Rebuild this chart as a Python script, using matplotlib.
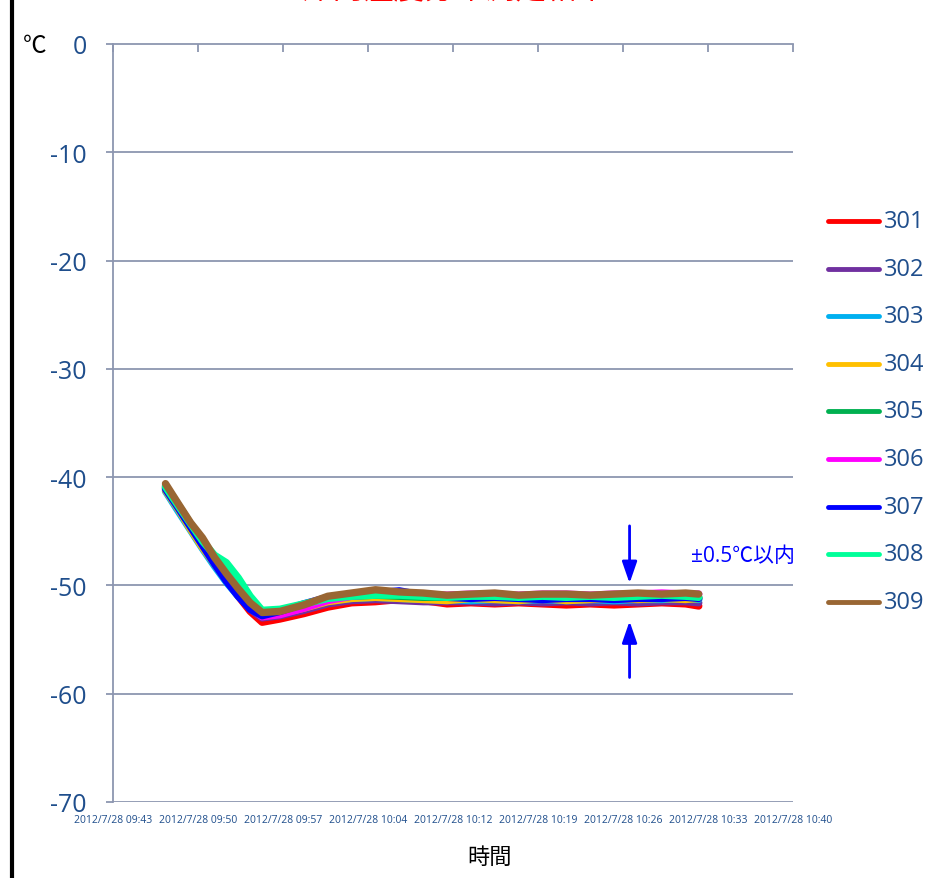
import matplotlib
matplotlib.use("Agg")
import matplotlib.pyplot as plt
from matplotlib.lines import Line2D

plt.rcParams['font.family'] = ['Open Sans', 'Noto Sans CJK JP', 'DejaVu Sans']

# minutes after 2012/7/28 09:43
minutes = [4.4, 5.5, 6.5, 7.5, 8.5, 9.5, 10.5, 11.5, 12.5, 14, 16, 18, 20, 22,
           24, 26, 28, 30, 32, 34, 36, 38, 40, 42, 44, 46, 48, 49.1]

t301 = [-41.0, -42.8, -44.5, -46.1, -47.9, -49.5, -51.0, -52.4, -53.4, -53.1, -52.6, -52.0, -51.6, -51.5,
        -51.3, -51.4, -51.7, -51.6, -51.7, -51.6, -51.7, -51.8, -51.7, -51.8, -51.7, -51.6, -51.7, -51.9]
t302 = [-41.0, -42.8, -44.5, -46.2, -47.9, -49.5, -50.9, -52.2, -53.0, -52.8, -52.3, -51.7, -51.4, -51.3,
        -51.4, -51.5, -51.5, -51.5, -51.6, -51.5, -51.6, -51.5, -51.6, -51.5, -51.6, -51.5, -51.5, -51.6]
t303 = [-41.3, -43.2, -44.9, -46.6, -48.2, -49.7, -51.0, -52.1, -52.8, -52.6, -52.0, -51.4, -51.2, -51.1,
        -51.2, -51.3, -51.3, -51.4, -51.3, -51.4, -51.3, -51.4, -51.3, -51.4, -51.3, -51.3, -51.2, -51.3]
t304 = [-41.2, -43.0, -44.8, -46.5, -48.0, -49.5, -50.8, -51.9, -52.7, -52.6, -52.1, -51.5, -51.2, -51.1,
        -51.2, -51.3, -51.4, -51.2, -51.3, -51.4, -51.2, -51.4, -51.3, -51.2, -51.3, -51.2, -51.3, -51.2]
t305 = [-40.8, -42.6, -44.3, -45.9, -47.6, -49.2, -50.6, -51.9, -52.7, -52.4, -51.9, -51.2, -51.0, -50.9,
        -51.0, -51.1, -51.1, -51.1, -51.0, -51.1, -51.1, -51.0, -51.1, -51.1, -51.0, -51.1, -51.0, -51.1]
t306 = [-40.9, -42.7, -44.4, -46.0, -47.6, -49.2, -50.7, -52.0, -52.9, -52.7, -52.1, -51.4, -51.0, -50.8,
        -50.8, -50.8, -50.9, -50.8, -50.8, -50.9, -50.8, -50.8, -50.9, -50.8, -50.8, -50.7, -50.8, -50.8]
t307 = [-41.1, -42.9, -44.6, -46.3, -48.0, -49.6, -51.0, -52.2, -52.8, -52.4, -51.7, -51.1, -50.8, -50.7,
        -50.5, -50.9, -51.1, -51.2, -51.1, -51.2, -51.3, -51.2, -51.2, -51.3, -51.2, -51.2, -51.1, -51.2]
t308 = [-40.9, -42.7, -44.3, -45.9, -47.2, -47.9, -49.3, -51.0, -52.3, -52.2, -51.7, -51.2, -51.0, -50.9,
        -50.9, -51.0, -51.1, -51.0, -51.0, -51.1, -51.0, -51.1, -51.0, -51.1, -51.0, -50.9, -51.0, -51.1]
t309 = [-40.6, -42.5, -44.2, -45.6, -47.4, -48.9, -50.3, -51.6, -52.5, -52.4, -51.8, -51.0, -50.7, -50.4,
        -50.6, -50.7, -50.9, -50.8, -50.7, -50.9, -50.8, -50.8, -50.9, -50.8, -50.7, -50.8, -50.7, -50.8]

labels = ['301', '302', '303', '304', '305', '306', '307', '308', '309']
series = [t301, t302, t303, t304, t305, t306, t307, t308, t309]
colors = ['#ff0000', '#7030a0', '#00b0f0', '#ffc000', '#00b050',
          '#ff00ff', '#0000ff', '#00ff99', '#996633']

tick_minutes = [0, 7.125, 14.25, 21.375, 28.5, 35.625, 42.75, 49.875, 57]
tick_labels = ['2012/7/28 09:43', '2012/7/28 09:50', '2012/7/28 09:57',
               '2012/7/28 10:04', '2012/7/28 10:12', '2012/7/28 10:19',
               '2012/7/28 10:26', '2012/7/28 10:33', '2012/7/28 10:40']
y_ticks = [0, -10, -20, -30, -40, -50, -60, -70]

W, H = 945, 879
fig = plt.figure(figsize=(W / 100, H / 100), dpi=100)
ax = fig.add_axes([113 / W, 1 - 803 / H, 680 / W, 758 / H])

axis_col = '#8c96b0'
text_col = '#1f4e8c'

for v in y_ticks[1:]:
    ax.axhline(v, color=axis_col, lw=1.3, zorder=1)

for vals, col in zip(series, colors):
    ax.plot(minutes, vals, color=col, lw=5.3, solid_capstyle='round',
            solid_joinstyle='round', zorder=3)

ax.set_xlim(0, 57)
ax.set_ylim(-70, 0)
ax.set_xticks(tick_minutes)
ax.set_xticklabels(tick_labels, fontsize=7.5, color=text_col)
ax.set_yticks(y_ticks)
ax.set_yticklabels([str(v) for v in y_ticks], fontsize=18, color=text_col)

ax.tick_params(axis='x', top=True, bottom=False, labeltop=False, labelbottom=True,
               direction='in', length=6, color=axis_col, width=1.3, pad=9)
ax.tick_params(axis='y', direction='out', length=5, color=axis_col, width=1.3, pad=14)
for side in ['right', 'bottom']:
    ax.spines[side].set_visible(False)
for side in ['top', 'left']:
    ax.spines[side].set_color(axis_col)
    ax.spines[side].set_linewidth(1.3)

# tolerance arrows
arrow = dict(arrowstyle='-|>,head_length=1.3,head_width=0.45', color='#0000ff',
             lw=2, shrinkA=0, shrinkB=0)
ax.annotate('', xy=(43.3, -49.8), xytext=(43.3, -44.5), arrowprops=arrow)
ax.annotate('', xy=(43.3, -53.3), xytext=(43.3, -58.5), arrowprops=arrow)
ax.text(795 / W, 1 - 557 / H, '±0.5℃以内', transform=fig.transFigure,
        ha='right', va='center', fontsize=15, color='#0000ff')

fig.text(35 / W, 1 - 47 / H, '℃', ha='center', va='center', fontsize=17, color='black')
fig.text(490 / W, 1 - 858 / H, '時間', ha='center', va='center', fontsize=16, color='black')
fig.text(455 / W, 1 - 5 / H, '庫内温度分布測定結果', ha='center', va='bottom',
         fontsize=22, color='#ff0000')

# legend on the right
for i, (lab, col) in enumerate(zip(labels, colors)):
    yy = 1 - (222 + i * 47.6) / H
    fig.add_artist(Line2D([828 / W, 879 / W], [yy, yy], color=col, lw=3.5,
                          solid_capstyle='round', transform=fig.transFigure))
    fig.text(884 / W, yy, lab, ha='left', va='center', fontsize=17, color=text_col)

# frame line at the left edge
fig.add_artist(Line2D([12 / W, 12 / W], [0, 1], color='black', lw=3,
                      transform=fig.transFigure))

fig.savefig('out.png', dpi=100, facecolor='white')
